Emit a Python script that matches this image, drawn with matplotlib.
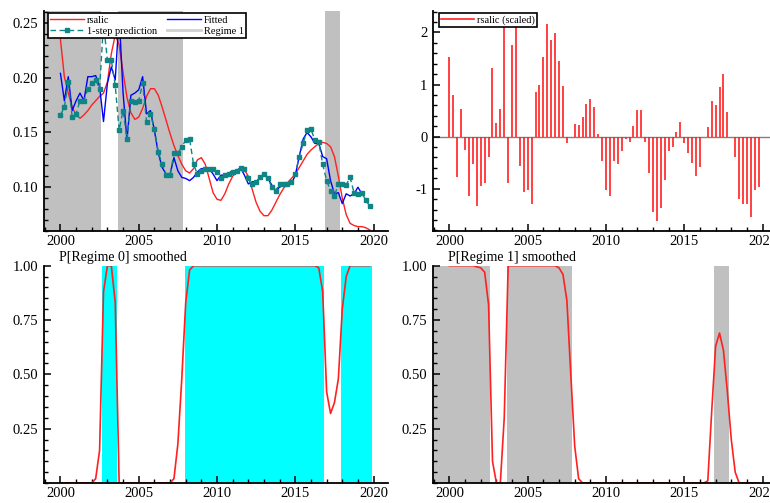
import numpy as np
import matplotlib
matplotlib.use('Agg')
import matplotlib.pyplot as plt
from matplotlib.lines import Line2D
from matplotlib.ticker import MultipleLocator, FixedLocator

plt.rcParams['font.family'] = ['Liberation Serif', 'DejaVu Serif']

# quarterly sample 2000Q1 - 2019Q4
quarters = np.arange(2000, 2020, 0.25)

rsalic = [0.235, 0.201, 0.186, 0.173, 0.166, 0.163, 0.166, 0.170, 0.175, 0.179,
          0.183, 0.186, 0.196, 0.222, 0.239, 0.230, 0.205, 0.182, 0.168, 0.162,
          0.164, 0.172, 0.183, 0.190, 0.190, 0.184, 0.173, 0.161, 0.149, 0.138,
          0.129, 0.121, 0.115, 0.113, 0.117, 0.125, 0.127, 0.121, 0.108, 0.095,
          0.089, 0.088, 0.094, 0.103, 0.110, 0.114, 0.116, 0.116, 0.110, 0.098,
          0.086, 0.078, 0.074, 0.074, 0.079, 0.086, 0.093, 0.099, 0.104, 0.108,
          0.112, 0.118, 0.124, 0.130, 0.134, 0.137, 0.140, 0.141, 0.140, 0.137,
          0.128, 0.110, 0.090, 0.075, 0.067, 0.065, 0.064, 0.064, 0.063, 0.061]

fitted = [0.204, 0.179, 0.201, 0.170, 0.179, 0.186, 0.179, 0.201, 0.201, 0.202,
          0.192, 0.160, 0.195, 0.210, 0.198, 0.257, 0.186, 0.143, 0.184, 0.186,
          0.189, 0.201, 0.167, 0.170, 0.152, 0.131, 0.118, 0.112, 0.112, 0.127,
          0.115, 0.109, 0.108, 0.106, 0.109, 0.114, 0.117, 0.117, 0.117, 0.112,
          0.106, 0.111, 0.111, 0.113, 0.115, 0.115, 0.118, 0.111, 0.103, 0.105,
          0.105, 0.109, 0.112, 0.108, 0.102, 0.097, 0.100, 0.102, 0.102, 0.103,
          0.111, 0.128, 0.144, 0.150, 0.146, 0.140, 0.140, 0.128, 0.126, 0.106,
          0.094, 0.095, 0.085, 0.094, 0.092, 0.094, 0.100, 0.094, np.nan, np.nan]

prediction = [0.166, 0.173, 0.196, 0.164, 0.167, 0.179, 0.179, 0.190, 0.195, 0.198,
              0.190, 0.250, 0.216, 0.216, 0.193, 0.152, 0.170, 0.144, 0.179, 0.178,
              0.179, 0.195, 0.160, 0.167, 0.153, 0.132, 0.121, 0.111, 0.111, 0.131,
              0.131, 0.137, 0.143, 0.144, 0.121, 0.112, 0.115, 0.117, 0.117, 0.117,
              0.114, 0.108, 0.111, 0.112, 0.114, 0.115, 0.118, 0.117, 0.108, 0.103,
              0.105, 0.109, 0.112, 0.108, 0.100, 0.097, 0.103, 0.103, 0.103, 0.105,
              0.112, 0.128, 0.140, 0.152, 0.153, 0.143, 0.141, 0.121, 0.106, 0.097,
              0.092, 0.103, 0.103, 0.102, 0.109, 0.095, 0.094, 0.095, 0.088, 0.083]

residuals = [1.52, 0.79, -0.77, 0.53, -0.26, -1.14, -0.53, -1.34, -0.95, -0.88,
             -0.40, 1.31, 0.27, 0.53, 2.31, -0.88, 1.76, 2.12, -0.56, -1.07,
             -1.02, -1.29, 0.86, 0.99, 1.52, 2.17, 1.85, 1.98, 1.45, 0.97,
             -0.13, 0.00, 0.24, 0.22, 0.37, 0.63, 0.72, 0.56, 0.06, -0.46,
             -1.03, -1.13, -0.47, -0.52, -0.27, -0.04, -0.10, 0.21, 0.51, 0.51,
             -0.10, -0.69, -1.44, -1.62, -1.37, -0.84, -0.27, -0.20, 0.08, 0.29,
             -0.12, -0.31, -0.51, -0.75, -0.59, 0.00, 0.19, 0.68, 0.61, 0.95,
             1.20, 0.47, 0.00, -0.40, -1.19, -1.29, -1.29, -1.55, -1.03, -0.96]

p_regime0 = [0, 0, 0, 0, 0, 0, 0, 0, 0, 0.02,
             0.15, 0.88, 1, 1, 0.83, 0, 0, 0, 0, 0,
             0, 0, 0, 0, 0, 0, 0, 0, 0, 0.02,
             0.18, 0.48, 0.83, 0.98, 1, 1, 1, 1, 1, 1,
             1, 1, 1, 1, 1, 1, 1, 1, 1, 1,
             1, 1, 1, 1, 1, 1, 1, 1, 1, 1,
             1, 1, 1, 1, 1, 1, 0.99, 0.88, 0.42, 0.32,
             0.37, 0.48, 0.80, 0.95, 1, 1, 1, 1, 1, 1]

p_regime1 = [1, 1, 1, 1, 1, 1, 1, 0.995, 0.99, 0.97,
             0.82, 0.10, 0, 0, 0.30, 1, 1, 1, 1, 1,
             1, 1, 1, 1, 1, 1, 1, 1, 0.99, 0.96,
             0.84, 0.50, 0.17, 0.02, 0, 0, 0, 0, 0, 0,
             0, 0, 0, 0, 0, 0, 0, 0, 0, 0,
             0, 0, 0, 0, 0, 0, 0, 0, 0, 0,
             0, 0, 0, 0, 0, 0, 0.01, 0.33, 0.63, 0.69,
             0.61, 0.42, 0.20, 0.05, 0, 0, 0, 0, 0, 0]

# regime classification periods (start, end) in years
regime1_periods = [(1998.95, 2002.58), (2003.66, 2007.85), (2016.87, 2017.87)]
regime0_periods = [(2002.66, 2003.62), (2007.93, 2016.81), (2017.95, 2019.87)]

RED = '#ff2020'
GREY = '#c0c0c0'
CYAN = '#00ffff'
TEAL = '#108585'
XLIM = (1998.95, 2020.92)


def style_axes(ax, ymajor, yminor, ylim):
    ax.set_xlim(*XLIM)
    ax.set_ylim(*ylim)
    ax.xaxis.set_major_locator(MultipleLocator(5))
    ax.xaxis.set_minor_locator(MultipleLocator(1))
    ax.yaxis.set_major_locator(FixedLocator(ymajor))
    ax.yaxis.set_minor_locator(MultipleLocator(yminor))
    for side in ['top', 'right']:
        ax.spines[side].set_visible(False)
    for side in ['left', 'bottom']:
        ax.spines[side].set_linewidth(1.3)
    ax.tick_params(which='major', direction='in', length=5, width=1.1,
                   labelsize=10.5, pad=4)
    ax.tick_params(which='minor', direction='in', length=3, width=1.0)
    ax.tick_params(axis='x', pad=3)


fig = plt.figure(figsize=(7.7, 5.03), dpi=100)
W, H = 770, 503
w = 344 / W
ax1 = fig.add_axes([44 / W, (H - 231) / H, w, 220 / H])
ax2 = fig.add_axes([433 / W, (H - 231) / H, w, 220 / H])
ax3 = fig.add_axes([44 / W, (H - 483) / H, w, 217.3 / H])
ax4 = fig.add_axes([433 / W, (H - 483) / H, w, 217.3 / H])

# top left: actual, fitted, 1-step prediction
for a, b in regime1_periods:
    ax1.axvspan(a, b, color=GREY, lw=0, zorder=0)
ax1.plot(quarters, rsalic, color=RED, lw=1.0, zorder=3)
ax1.plot(quarters, fitted, color='#0000ff', lw=1.0, zorder=4)
ax1.plot(quarters, prediction, color=TEAL, lw=1.0, ls=(0, (4, 2.5)),
         marker='s', markersize=3, zorder=5)
style_axes(ax1, [0.10, 0.15, 0.20, 0.25], 0.01, (0.06, 0.261))
ax1.yaxis.set_major_formatter(lambda v, p: f'{v:.2f}')
handles = [Line2D([], [], color=RED, lw=1.0),
           Line2D([], [], color=TEAL, lw=1.0, ls=(0, (4, 2.5)), marker='s', markersize=3),
           Line2D([], [], color='#0000ff', lw=1.0),
           Line2D([], [], color='#d0d0d0', lw=2.0)]
labels = ['rsalic', '1-step prediction', 'Fitted', 'Regime 1']
leg = ax1.legend(handles, labels, ncol=2, loc='upper left',
                 bbox_to_anchor=(0.012, 0.99), fontsize=7.5, frameon=True,
                 fancybox=False, edgecolor='black', framealpha=1,
                 handlelength=3.2, handletextpad=0.3, columnspacing=1.0,
                 borderpad=0.2, labelspacing=0.2, borderaxespad=0)
leg.get_frame().set_linewidth(1.2)

# top right: scaled residuals
ax2.axhline(0, color='#808080', lw=1.0, zorder=1)
ax2.vlines(quarters, 0, residuals, color=RED, lw=1.2, zorder=2)
style_axes(ax2, [-1, 0, 1, 2], 0.2, (-1.81, 2.41))
ax2.yaxis.set_major_formatter(lambda v, p: f'{v:g}')
res_line = Line2D([], [], color=RED, lw=1.2)
leg2 = ax2.legend([res_line], ['rsalic (scaled)'], loc='upper left',
                  bbox_to_anchor=(0.017, 0.99), fontsize=7.5, frameon=True,
                  fancybox=False, edgecolor='black', framealpha=1,
                  handlelength=3.2, handletextpad=0.3, borderpad=0.2,
                  borderaxespad=0)
leg2.get_frame().set_linewidth(1.2)

# bottom: smoothed regime probabilities
for a, b in regime0_periods:
    ax3.axvspan(a, b, color=CYAN, lw=0, zorder=0)
ax3.plot(quarters, p_regime0, color=RED, lw=1.2, zorder=3)
style_axes(ax3, [0.25, 0.50, 0.75, 1.00], 0.05, (0, 1.0))
ax3.yaxis.set_major_formatter(lambda v, p: f'{v:.2f}')
ax3.text(0.045, 1.008, 'P[Regime 0] smoothed', transform=ax3.transAxes,
         ha='left', va='bottom', fontsize=10)

for a, b in regime1_periods:
    ax4.axvspan(a, b, color=GREY, lw=0, zorder=0)
ax4.plot(quarters, p_regime1, color=RED, lw=1.2, zorder=3)
style_axes(ax4, [0.25, 0.50, 0.75, 1.00], 0.05, (0, 1.0))
ax4.yaxis.set_major_formatter(lambda v, p: f'{v:.2f}')
ax4.text(0.045, 1.008, 'P[Regime 1] smoothed', transform=ax4.transAxes,
         ha='left', va='bottom', fontsize=10)

for ax in (ax1, ax2, ax3, ax4):
    for sp in ax.spines.values():
        sp.set_zorder(10)

fig.savefig('out.png', dpi=100)
